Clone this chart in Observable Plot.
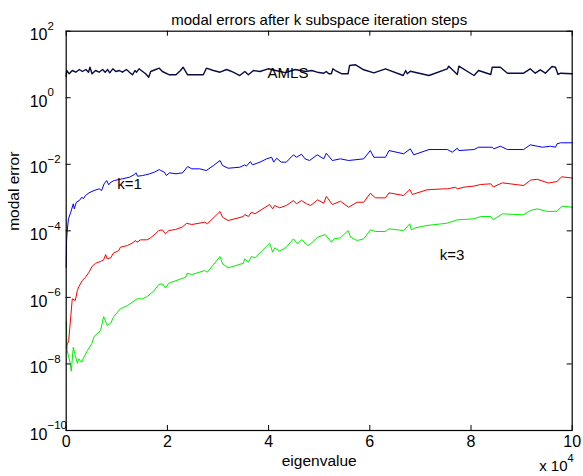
<!DOCTYPE html>
<html><head><meta charset="utf-8">
<script src="https://cdn.jsdelivr.net/npm/d3@7"></script>
<script src="https://cdn.jsdelivr.net/npm/@observablehq/plot@0.6"></script>
<style>body{margin:0;background:#fff}</style>
</head><body><div id="chart"></div>
<script>
// eigenvalue in units of 10^4, modal error
const amls = [[0,4.4],[0.01,6.59],[0.06,5.24],[0.12,6.59],[0.19,5.86],[0.26,7.06],[0.32,6.15],[0.39,7.06],[0.44,5.86],[0.47,8.28],[0.51,5.24],[0.58,6.59],[0.65,5.86],[0.72,7.06],[0.77,5.86],[0.82,7.06],[0.86,5.62],[0.92,7.41],[0.98,6.15],[1.05,6.59],[1.11,5.86],[1.19,7.06],[1.25,5.86],[1.31,4.89],[1.36,6.59],[1.39,5.86],[1.44,7.41],[1.51,6.15],[1.57,5.24],[1.63,4.14],[1.67,6.15],[1.77,7.06],[1.84,7.73],[1.90,6.15],[2.04,4.89],[2.17,4.89],[2.26,6.59],[2.31,8.28],[2.40,4.89],[2.51,4.89],[2.71,4.89],[2.77,7.73],[2.91,6.59],[3.04,5.86],[3.17,7.06],[3.30,5.86],[3.43,4.66],[3.53,6.15],[3.60,4.89],[3.70,6.59],[3.83,6.15],[3.99,7.41],[4.14,6.59],[4.33,5.7],[4.53,7.06],[4.73,6.15],[4.85,6.59],[4.96,5.86],[5.09,5.47],[5.14,6.15],[5.19,5.24],[5.24,5.24],[5.27,7.41],[5.32,6.59],[5.45,5.24],[5.57,5.24],[5.60,9.31],[5.72,9.77],[5.88,6.92],[6.08,5.62],[6.31,7.41],[6.66,4.66],[6.71,6.59],[6.74,5.24],[6.80,6.28],[7.17,4.66],[7.53,7.41],[7.56,8.87],[7.73,5.00],[7.76,8.87],[8.06,4.66],[8.15,6.59],[8.39,5.00],[8.42,8.28],[8.58,8.28],[8.72,5.47],[9.04,5.47],[9.17,7.41],[9.27,5.47],[9.37,6.92],[9.47,5.47],[9.60,8.69],[9.67,8.28],[9.72,5.00],[9.77,5.47],[10.0,5.24]];

const k1 = [[0,8.07e-6],[0.006,4.55e-5],[0.02,1.02e-4],[0.045,2.30e-4],[0.09,3.63e-4],[0.14,6.49e-4],[0.16,4.59e-4],[0.20,7.24e-4],[0.26,8.15e-4],[0.31,1.03e-3],[0.34,9.16e-4],[0.38,1.15e-3],[0.45,1.39e-3],[0.55,1.63e-3],[0.65,1.83e-3],[0.70,1.63e-3],[0.75,2.59e-3],[0.80,3.25e-3],[0.84,2.42e-3],[0.88,2.89e-3],[0.95,3.25e-3],[1.11,3.66e-3],[1.25,4.09e-3],[1.34,4.83e-3],[1.38,5.55e-3],[1.41,4.38e-3],[1.51,4.60e-3],[1.57,4.83e-3],[1.65,5.18e-3],[1.74,5.78e-3],[1.84,6.97e-3],[1.87,6.50e-3],[1.94,5.78e-3],[1.98,4.60e-3],[2.04,5.55e-3],[2.17,5.18e-3],[2.30,5.55e-3],[2.40,8.57e-3],[2.48,7.31e-3],[2.64,7.31e-3],[2.77,6.50e-3],[2.91,9.18e-3],[3.04,1.30e-2],[3.09,9.18e-3],[3.20,7.62e-3],[3.43,8.17e-3],[3.53,9.64e-3],[3.56,8.75e-3],[3.64,1.21e-2],[3.68,9.64e-3],[3.83,1.16e-2],[3.96,1.46e-2],[4.06,1.63e-2],[4.10,1.16e-2],[4.16,1.52e-2],[4.25,1.16e-2],[4.35,1.16e-2],[4.49,1.93e-2],[4.55,1.63e-2],[4.65,2.01e-2],[4.72,1.46e-2],[4.81,1.30e-2],[4.96,1.93e-2],[5.09,1.46e-2],[5.14,2.15e-2],[5.26,1.30e-2],[5.42,1.46e-2],[5.58,1.30e-2],[5.88,1.46e-2],[6.01,2.59e-2],[6.08,1.63e-2],[6.31,1.63e-2],[6.38,2.59e-2],[6.67,2.07e-2],[6.80,2.92e-2],[6.87,1.93e-2],[7.17,2.78e-2],[7.53,2.78e-2],[7.63,2.31e-2],[7.73,3.04e-2],[7.76,2.59e-2],[8.06,2.78e-2],[8.15,3.26e-2],[8.42,3.26e-2],[8.45,2.92e-2],[8.58,3.49e-2],[8.72,2.78e-2],[9.04,2.78e-2],[9.17,3.85e-2],[9.31,3.49e-2],[9.41,3.26e-2],[9.57,3.49e-2],[9.67,3.26e-2],[9.70,4.13e-2],[9.77,4.43e-2],[10.0,4.43e-2]];

const k2 = [[0,3.11e-8],[0.05,5.05e-8],[0.12,9.06e-7],[0.18,8.05e-7],[0.22,1.61e-6],[0.25,2.12e-6],[0.32,3.21e-6],[0.38,4.04e-6],[0.45,5.70e-6],[0.51,8.47e-6],[0.58,1.06e-5],[0.68,1.20e-5],[0.74,1.35e-5],[0.78,1.94e-5],[0.81,1.44e-5],[0.88,1.55e-5],[0.93,2.12e-5],[1.04,2.56e-5],[1.07,3.22e-5],[1.21,3.62e-5],[1.30,4.25e-5],[1.37,5.12e-5],[1.40,4.55e-5],[1.47,5.37e-5],[1.60,5.37e-5],[1.67,6.17e-5],[1.76,8.13e-5],[1.83,1.02e-4],[1.90,1.07e-4],[1.96,8.13e-5],[2.03,1.02e-4],[2.16,1.10e-4],[2.29,1.29e-4],[2.38,1.69e-4],[2.48,1.55e-4],[2.74,1.82e-4],[2.79,1.63e-4],[3.04,3.81e-4],[3.09,2.56e-4],[3.20,2.04e-4],[3.50,2.69e-4],[3.53,3.09e-4],[3.60,2.69e-4],[3.66,3.63e-4],[3.73,3.25e-4],[4.02,6.18e-4],[4.08,4.59e-4],[4.12,5.77e-4],[4.22,4.92e-4],[4.35,5.77e-4],[4.49,8.15e-4],[4.55,6.49e-4],[4.65,8.15e-4],[4.75,6.49e-4],[4.83,5.77e-4],[4.97,8.55e-4],[5.09,6.76e-4],[5.14,1.08e-3],[5.26,6.18e-4],[5.42,7.76e-4],[5.58,5.13e-4],[5.75,7.24e-4],[5.88,7.24e-4],[6.01,1.35e-3],[6.11,9.82e-4],[6.31,9.82e-4],[6.38,1.39e-3],[6.67,1.15e-3],[6.79,1.75e-3],[6.84,1.24e-3],[7.13,1.71e-3],[7.46,1.83e-3],[7.54,1.83e-3],[7.69,2.05e-3],[7.73,1.83e-3],[7.86,2.05e-3],[8.06,2.22e-3],[8.19,2.47e-3],[8.39,2.59e-3],[8.44,2.08e-3],[8.62,2.77e-3],[9.04,2.30e-3],[9.18,3.37e-3],[9.31,3.54e-3],[9.53,2.74e-3],[9.70,3.03e-3],[9.79,4.21e-3],[10.0,3.87e-3]];

const k3 = [[0,1.79e-7],[0.02,2.53e-8],[0.08,1.03e-8],[0.10,6.04e-9],[0.14,3.18e-8],[0.18,1.79e-8],[0.22,1.05e-8],[0.25,1.42e-8],[0.30,1.12e-8],[0.35,1.59e-8],[0.42,2.53e-8],[0.51,4.19e-8],[0.55,6.67e-8],[0.68,1.01e-7],[0.74,2.66e-7],[0.81,1.43e-7],[0.88,1.67e-7],[0.94,2.66e-7],[1.07,4.53e-7],[1.21,5.69e-7],[1.40,9.06e-7],[1.51,9.06e-7],[1.60,1.06e-6],[1.73,1.55e-6],[1.83,2.44e-6],[1.90,2.56e-6],[1.96,1.91e-6],[2.03,2.67e-6],[2.23,3.44e-6],[2.36,4.04e-6],[2.39,5.32e-6],[2.48,4.86e-6],[2.74,6.41e-6],[2.79,5.70e-6],[3.04,1.69e-5],[3.09,1.02e-5],[3.20,7.73e-6],[3.50,1.06e-5],[3.53,1.44e-5],[3.60,1.14e-5],[3.66,1.69e-5],[3.73,1.55e-5],[4.02,4.25e-5],[4.08,2.28e-5],[4.12,3.09e-5],[4.22,2.44e-5],[4.35,3.22e-5],[4.49,5.75e-5],[4.57,4.07e-5],[4.65,5.37e-5],[4.78,3.62e-5],[4.83,4.07e-5],[4.97,6.43e-5],[5.12,7.75e-5],[5.24,4.55e-5],[5.29,5.75e-5],[5.42,6.17e-5],[5.57,1.02e-4],[5.62,6.43e-5],[5.75,5.12e-5],[5.88,5.75e-5],[6.01,1.07e-4],[6.11,9.55e-5],[6.31,9.55e-5],[6.38,1.15e-4],[6.67,1.02e-4],[6.79,1.63e-4],[6.82,1.07e-4],[6.90,1.23e-4],[7.13,1.45e-4],[7.52,1.69e-4],[7.73,2.14e-4],[8.06,2.30e-4],[8.19,2.69e-4],[8.39,2.69e-4],[8.44,2.14e-4],[8.62,3.25e-4],[9.04,3.03e-4],[9.17,4.08e-4],[9.31,4.59e-4],[9.51,3.81e-4],[9.70,3.89e-4],[9.80,5.50e-4],[10.0,5.13e-4]];

const xTicks = [0, 2, 4, 6, 8, 10];
const yExps = [-10, -8, -6, -4, -2, 0, 2];
const curveLabels = [
  {text: "AMLS", x: 3.98, y: 5.5},
  {text: "k=1", x: 1.01, y: 2.5e-3},
  {text: "k=3", x: 7.38, y: 1.8e-5}
];
const title = "modal errors after k subspace iteration steps";
const xLabel = "eigenvalue";
const yLabel = "modal error";

const W = 583, H = 476, mL = 65.7, mR = 11.3, mT = 30.7, mB = 46;
const pw = W - mL - mR, ph = H - mT - mB;
const font = "'Liberation Sans', Arial, sans-serif";
const fs = 15;
const tfs = 16;
const yVals = yExps.map(e => Math.pow(10, e));
const sup = e => (e < 0 ? "\u2212" + (-e) : String(e));

const chart = Plot.plot({
  width: W, height: H,
  marginLeft: mL, marginRight: mR, marginTop: mT, marginBottom: mB,
  x: {domain: [0, 10], axis: null},
  y: {type: "log", domain: [1e-10, 1e2], axis: null},
  style: {fontFamily: font, background: "#fff", color: "#000"},
  marks: [
    Plot.line(amls, {x: d => d[0], y: d => d[1], stroke: "#0b0b45", strokeWidth: 1.4}),
    Plot.line(k1, {x: d => d[0], y: d => d[1], stroke: "#0000ff", strokeWidth: 1}),
    Plot.line(k2, {x: d => d[0], y: d => d[1], stroke: "#ff0000", strokeWidth: 1}),
    Plot.line(k3, {x: d => d[0], y: d => d[1], stroke: "#00f000", strokeWidth: 1}),
    Plot.text(curveLabels, {x: "x", y: "y", text: "text", textAnchor: "start", fontSize: fs, fill: "#000"}),
    Plot.tickY(yVals, {y: d => d, insetRight: pw - 5, stroke: "#000"}),
    Plot.tickY(yVals, {y: d => d, insetLeft: pw - 5, stroke: "#000"}),
    Plot.tickX(xTicks, {x: d => d, insetTop: ph - 5, stroke: "#000"}),
    Plot.tickX(xTicks, {x: d => d, insetBottom: ph - 5, stroke: "#000"}),
    Plot.frame({stroke: "#000", strokeWidth: 1.2}),
    Plot.text(xTicks, {x: d => d, frameAnchor: "bottom", dy: 16, text: d => String(d), fontSize: tfs, fill: "#000"}),
    Plot.text(yVals, {y: d => d, frameAnchor: "left", dx: -18.7, dy: 4, textAnchor: "end", text: () => "10", fontSize: tfs, fill: "#000"}),
    Plot.text(yExps, {y: d => Math.pow(10, d), frameAnchor: "left", dx: -18.7, dy: -5, textAnchor: "start", text: d => sup(d), fontSize: 11.5, fill: "#000"}),
    Plot.text([title], {frameAnchor: "top", dy: -17, fontSize: fs, fill: "#000"}),
    Plot.text([xLabel], {frameAnchor: "bottom", dy: 35, fontSize: 15.5, fill: "#000"}),
    Plot.text([yLabel], {frameAnchor: "left", dx: -52, rotate: -90, fontSize: 15.5, fill: "#000"}),
    Plot.text(["x 10"], {frameAnchor: "bottom-right", dx: -4.7, dy: 40, textAnchor: "end", fontSize: fs, fill: "#000"}),
    Plot.text(["4"], {frameAnchor: "bottom-right", dx: -4.7, dy: 31, textAnchor: "start", fontSize: 11, fill: "#000"})
  ]
});
document.getElementById("chart").appendChild(chart);
</script>
</body></html>
